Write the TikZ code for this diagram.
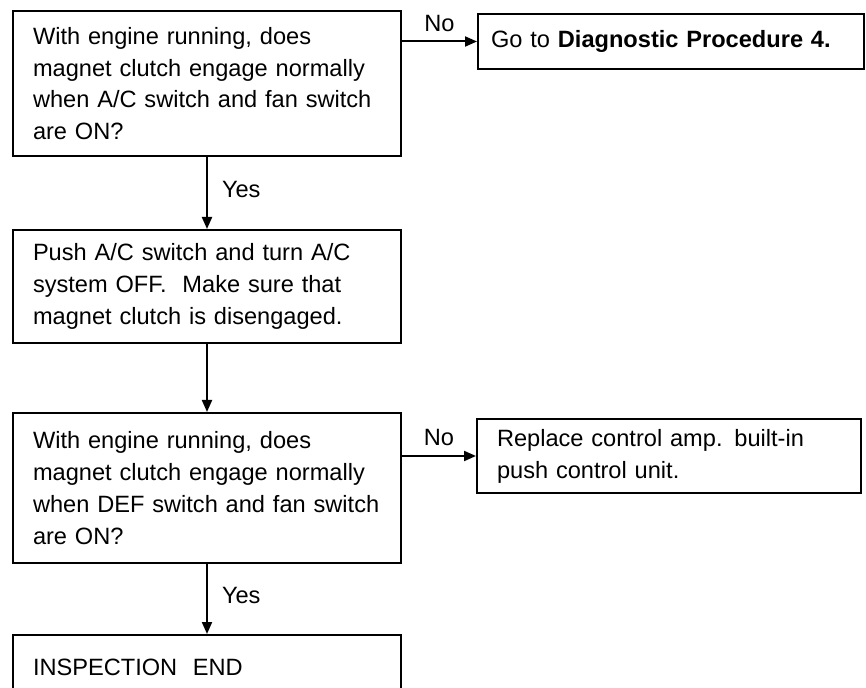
\documentclass[tikz,border=0pt]{standalone}
\usepackage{fontspec}
\setmainfont{Liberation Sans}
\usetikzlibrary{arrows.meta,positioning}
\newcommand{\flowfont}{\fontsize{11.8}{15.9}\selectfont}
\tikzset{
  stepbox/.style={draw, line width=1pt, anchor=north west, align=left,
    inner xsep=10pt, text width=174pt, font=\flowfont},
  sidebox/.style={stepbox, text width=172pt},
  arr/.style={-{Triangle[length=6pt,width=5pt]}, line width=1pt},
  lbl/.style={font=\flowfont, inner sep=0pt}
}
\begin{document}
\begin{tikzpicture}[x=0.5pt,y=-0.5pt]
  \useasboundingbox (0,0) rectangle (866,688);
  \clip (0,0) rectangle (866,688);
  \node[stepbox, minimum height=72.5pt] (engac) at (12,10)
    {With engine running, does\\magnet clutch engage normally\\when A/C switch and fan switch\\are ON?};
  \node[stepbox, text width=180pt, inner xsep=6.5pt, minimum height=27.5pt] (diag4) at (477,13)
    {Go to \textbf{Diagnostic Procedure 4.}};
  \node[stepbox, minimum height=56.5pt] (pushoff) at (12,229)
    {Push A/C switch and turn A/C\\system OFF.\ \ Make sure that\\magnet clutch is disengaged.};
  \node[stepbox, minimum height=75pt] (engdef) at (12,412)
    {With engine running, does\\magnet clutch engage normally\\when DEF switch and fan switch\\are ON?};
  \node[sidebox, minimum height=37pt] (ampunit) at (476,418)
    {Replace control amp. built-in\\push control unit.};
  \node[stepbox, minimum height=32pt] (inspend) at (12,634) {INSPECTION\ \ END};
  \draw[arr] (engac.east |- diag4.west) -- (diag4.west)
    node[lbl, midway, above=4.5pt] {No};
  \draw[arr] (engac.south) -- (pushoff.north)
    node[lbl, pos=0.45, right=7pt] {Yes};
  \draw[arr] (pushoff.south) -- (engdef.north);
  \draw[arr] (engdef.east |- ampunit.west) -- (ampunit.west)
    node[lbl, midway, above=4.5pt] {No};
  \draw[arr] (engdef.south) -- (inspend.north)
    node[lbl, pos=0.45, right=7pt] {Yes};
\end{tikzpicture}
\end{document}
